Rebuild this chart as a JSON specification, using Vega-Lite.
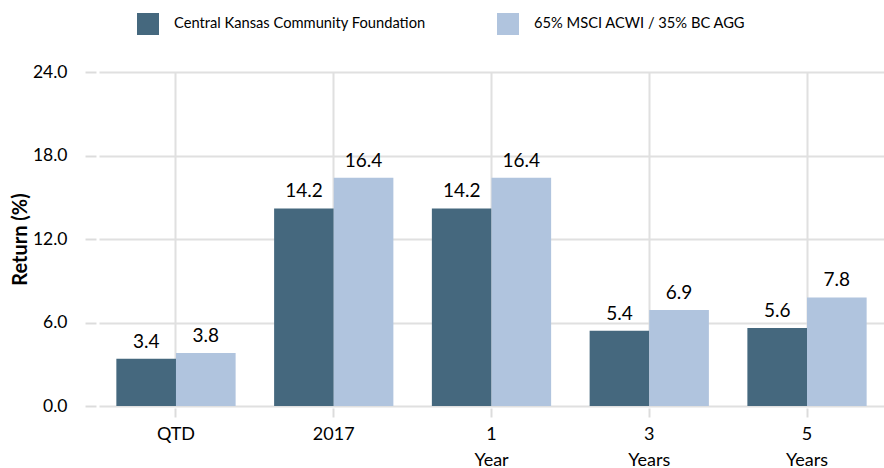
{
  "$schema": "https://vega.github.io/schema/vega-lite/v6.json",
  "width": 785,
  "height": 334,
  "autosize": "none",
  "padding": {"left": 99, "top": 72, "right": 0, "bottom": 62},
  "background": "white",
  "config": {"view": {"stroke": null}, "font": "Lato"},
  "data": {
    "values": [
      {"period": "QTD", "series": "Central Kansas Community Foundation", "value": 3.4},
      {"period": "QTD", "series": "65% MSCI ACWI / 35% BC AGG", "value": 3.8},
      {"period": "2017", "series": "Central Kansas Community Foundation", "value": 14.2},
      {"period": "2017", "series": "65% MSCI ACWI / 35% BC AGG", "value": 16.4},
      {"period": "1|Year", "series": "Central Kansas Community Foundation", "value": 14.2},
      {"period": "1|Year", "series": "65% MSCI ACWI / 35% BC AGG", "value": 16.4},
      {"period": "3|Years", "series": "Central Kansas Community Foundation", "value": 5.4},
      {"period": "3|Years", "series": "65% MSCI ACWI / 35% BC AGG", "value": 6.9},
      {"period": "5|Years", "series": "Central Kansas Community Foundation", "value": 5.6},
      {"period": "5|Years", "series": "65% MSCI ACWI / 35% BC AGG", "value": 7.8}
    ]
  },
  "encoding": {
    "x": {
      "field": "period",
      "type": "nominal",
      "sort": ["QTD", "2017", "1|Year", "3|Years", "5|Years"],
      "scale": {"paddingInner": 0.244, "paddingOuter": 0.11},
      "axis": {
        "title": null,
        "labelAngle": 0,
        "labelExpr": "split(datum.value, '|')",
        "labelFontSize": 18,
        "labelColor": "#000000",
        "labelLineHeight": 26,
        "labelBaseline": "top",
        "labelPadding": 8,
        "tickSize": 9,
        "tickColor": "#dcdcdc",
        "tickWidth": 2,
        "offset": 2,
        "domain": false,
        "grid": true,
        "gridColor": "#e0e0e0",
        "gridWidth": 2
      }
    },
    "xOffset": {
      "field": "series",
      "sort": ["Central Kansas Community Foundation", "65% MSCI ACWI / 35% BC AGG"]
    },
    "y": {
      "field": "value",
      "type": "quantitative",
      "scale": {"domain": [0, 24], "nice": false},
      "axis": {
        "values": [0, 6, 12, 18, 24],
        "format": ".1f",
        "title": "Return (%)",
        "titleFontSize": 20,
        "titleFontWeight": "bold",
        "titleColor": "#000000",
        "titlePadding": 2,
        "labelFontSize": 17.5,
        "labelColor": "#000000",
        "labelPadding": 18,
        "tickSize": 11,
        "tickColor": "#dcdcdc",
        "tickWidth": 2,
        "offset": 3,
        "domain": false,
        "grid": true,
        "gridColor": "#e0e0e0",
        "gridWidth": 2
      }
    }
  },
  "layer": [
    {
      "mark": {"type": "bar"},
      "encoding": {
        "color": {
          "field": "series",
          "type": "nominal",
          "scale": {
            "domain": ["Central Kansas Community Foundation", "65% MSCI ACWI / 35% BC AGG"],
            "range": ["#45687e", "#b0c4de"]
          },
          "legend": {
            "title": null,
            "orient": "none",
            "direction": "horizontal",
            "legendX": 38,
            "legendY": -59,
            "symbolType": "square",
            "symbolSize": 484,
            "symbolStrokeWidth": 0,
            "symbolOpacity": 1,
            "labelFontSize": 14.7,
            "labelColor": "#000000",
            "labelOffset": 15,
            "columnPadding": 71,
            "labelLimit": 400
          }
        }
      }
    },
    {
      "mark": {"type": "text", "baseline": "bottom", "dy": -7, "fontSize": 19, "color": "#000000"},
      "encoding": {
        "text": {"field": "value", "type": "quantitative", "format": ".1f"}
      }
    }
  ]
}
